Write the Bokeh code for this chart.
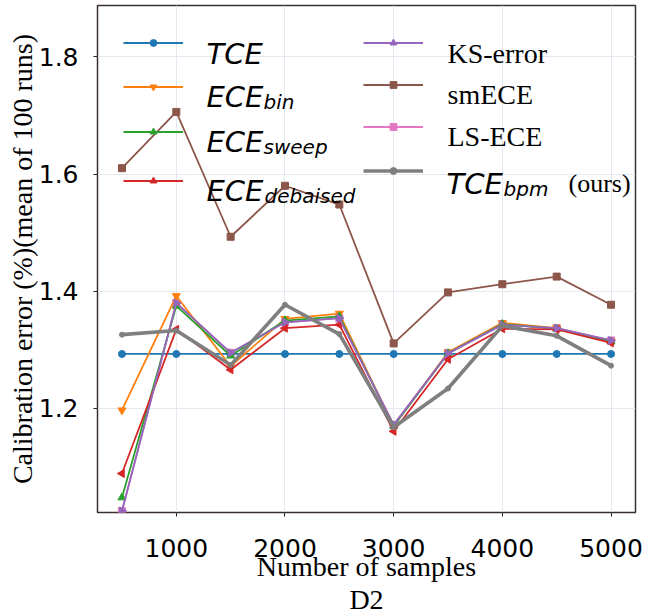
import math
from bokeh.plotting import figure
from bokeh.models import Range1d, Legend, LegendItem, Label, FixedTicker, Title
from bokeh.embed import file_html
from bokeh.resources import INLINE

# ---------------- data ----------------
samples = [500, 1000, 1500, 2000, 2500, 3000, 3500, 4000, 4500, 5000]
tce = [1.293, 1.293, 1.293, 1.293, 1.293, 1.293, 1.293, 1.293, 1.293, 1.293]
ece_bin = [1.197, 1.392, 1.272, 1.353, 1.362, 1.170, 1.296, 1.346, 1.337, 1.314]
ece_sweep = [1.048, 1.375, 1.290, 1.350, 1.357, 1.170, 1.294, 1.344, 1.336, 1.314]
ece_debaised = [1.089, 1.335, 1.266, 1.337, 1.343, 1.161, 1.284, 1.336, 1.335, 1.312]
ks_error = [1.025, 1.380, 1.295, 1.347, 1.354, 1.172, 1.294, 1.343, 1.337, 1.316]
sm_ece = [1.610, 1.706, 1.493, 1.580, 1.548, 1.311, 1.398, 1.412, 1.425, 1.377]
ls_ece = [1.025, 1.380, 1.295, 1.347, 1.354, 1.172, 1.294, 1.343, 1.337, 1.316]
tce_bpm = [1.326, 1.333, 1.274, 1.377, 1.327, 1.168, 1.234, 1.341, 1.324, 1.273]

x_ticks = [1000, 2000, 3000, 4000, 5000]
y_ticks = [1.2, 1.4, 1.6, 1.8]
x_label = "Number of samples"
sub_title = "D2"
y_label = "Calibration error (%)(mean of 100 runs)"

# ---------------- figure ----------------
W, H = 647, 615
FL = 97          # frame left inside the figure
FT = 5           # frame top
FB = 103         # space below the frame
p = figure(width=W, height=H, output_backend="svg", toolbar_location=None,
           x_range=Range1d(275, 5225), y_range=Range1d(1.0225, 1.8876),
           min_border_left=FL, min_border_right=W - 635, min_border_top=FT,
           min_border_bottom=FB)
p.background_fill_color = "white"
p.border_fill_color = "white"
p.outline_line_color = "#3a302c"
p.outline_line_width = 1.5
p.outline_line_alpha = 1.0

for ax in (p.xaxis, p.yaxis):
    ax.axis_line_color = None
    ax.major_tick_line_color = "#222222"
    ax.major_tick_out = 4
    ax.major_tick_in = 0
    ax.minor_tick_line_color = None
    ax.major_label_text_font = "DejaVu Sans"
    ax.major_label_text_font_size = "25px"
    ax.major_label_text_color = "black"
    ax.axis_label_text_font = "Liberation Serif"
    ax.axis_label_text_font_size = "28px"
    ax.axis_label_text_font_style = "normal"
    ax.axis_label_text_color = "black"

p.xaxis.ticker = FixedTicker(ticks=x_ticks)
p.yaxis.ticker = FixedTicker(ticks=y_ticks)
p.xaxis.major_label_standoff = 22
p.yaxis.major_label_standoff = 15
p.xaxis.axis_label = x_label
p.yaxis.axis_label = y_label
p.xaxis.axis_label_standoff = -9
p.yaxis.axis_label_standoff = -2

p.add_layout(Title(text=sub_title, align="center", text_font="Liberation Serif",
                   text_font_size="28px", text_font_style="normal",
                   text_color="black", standoff=-5, offset=0), "below")

p.xgrid.ticker = FixedTicker(ticks=x_ticks)
p.ygrid.ticker = FixedTicker(ticks=y_ticks)
for g in (p.xgrid, p.ygrid):
    g.grid_line_color = "#e3e9ee"
    g.grid_line_width = 1

# ---------------- series ----------------
series = [
    # key, values, color, marker, angle, size, width
    ("lsece", ls_ece, "#e377c2", "square", 0.0, 7, 1.8),
    ("tce", tce, "#1f77b4", "circle", 0.0, 7, 1.8),
    ("ecebin", ece_bin, "#ff7f0e", "inverted_triangle", 0.0, 8, 1.8),
    ("ecesweep", ece_sweep, "#2ca02c", "triangle", 0.0, 8, 1.8),
    ("ecedeb", ece_debaised, "#d62728", "triangle", math.pi / 2, 8, 1.8),
    ("ks", ks_error, "#9467bd", "triangle", -math.pi / 2, 8, 1.8),
    ("smece", sm_ece, "#8c564b", "square", 0.0, 7, 1.8),
    ("bpm", tce_bpm, "#7f7f7f", "circle", 0.0, 5, 3.6),
]
rends = {}
for key, vals, col, mk, ang, sz, lw in series:
    lr = p.line(samples, vals, line_color=col, line_width=lw)
    sr = p.scatter(samples, vals, marker=mk, angle=ang, size=sz,
                   fill_color=col, line_color=col)
    rends[key] = [lr, sr]

# ---------------- legend (glyph samples) ----------------
frame_left_img = FL
frame_bottom_img = H - FB
leg_rows = [
    ("tce", 123, 42), ("ecebin", 123, 86), ("ecesweep", 123, 131), ("ecedeb", 123, 180),
    ("ks", 363, 42), ("smece", 363, 84), ("lsece", 363, 126), ("bpm", 363, 170),
]
GH = 17
for key, xi, yi in leg_rows:
    lg = Legend(items=[LegendItem(label=" ", renderers=rends[key], index=0)],
                location=(xi - frame_left_img, frame_bottom_img - yi - GH / 2),
                glyph_width=60, glyph_height=GH, label_width=0, label_height=0,
                label_standoff=0, padding=0, margin=0, spacing=0,
                border_line_color=None, background_fill_alpha=0,
                label_text_font_size="1px")
    p.add_layout(lg)

# ---------------- legend texts ----------------
sans_it = dict(text_font="DejaVu Sans", text_font_style="italic")
serif = dict(text_font="Liberation Serif", text_font_style="normal")
texts = [
    ("TCE", 206, 53, 29, sans_it),
    ("ECE", 206, 96, 29, sans_it), ("bin", 263, 101, 20, sans_it),
    ("ECE", 206, 141, 29, sans_it), ("sweep", 263, 146, 20, sans_it),
    ("ECE", 206, 190, 29, sans_it), ("debaised", 264, 195, 20, sans_it),
    ("KS-error", 447, 53, 28, serif),
    ("smECE", 447, 94, 28, serif),
    ("LS-ECE", 447, 136, 28, serif),
    ("TCE", 446, 183, 29, sans_it), ("bpm", 503, 188, 20, sans_it),
    ("(ours)", 568, 183, 26, serif),
]
for t, xi, yi, fs, style in texts:
    p.add_layout(Label(x=xi - frame_left_img, y=frame_bottom_img - yi,
                       x_units="screen", y_units="screen", text=t,
                       text_font_size=f"{fs}px", text_color="black",
                       text_baseline="alphabetic", text_align="left", **style))

open("out.html", "w").write(file_html(p, INLINE))
